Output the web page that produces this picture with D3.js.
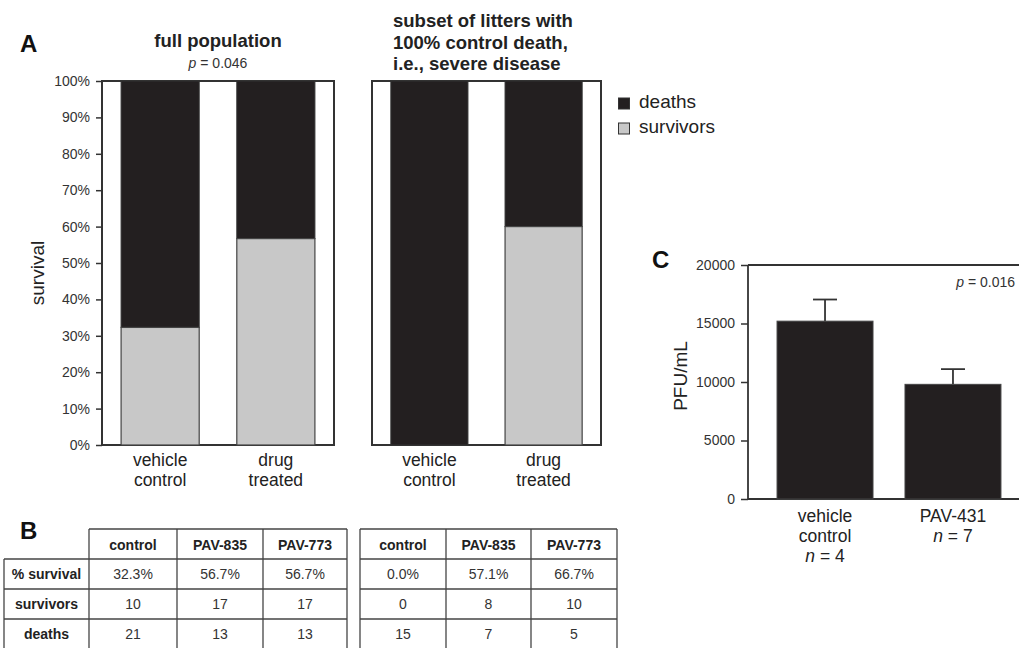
<!DOCTYPE html>
<html>
<head>
<meta charset="utf-8">
<script src="https://cdn.jsdelivr.net/npm/d3@7"></script>
<style>
  html, body { margin: 0; padding: 0; background: #fff; }
  svg { display: block; font-family: "Liberation Sans", Arial, sans-serif; }
</style>
</head>
<body>
<svg id="chart" width="1019" height="648"></svg>
<script>
// ---------- data ----------
const groupsA = ["vehicle control", "drug treated"];
const fullSurvivalPct = [32.3, 56.7];
const subsetSurvivalPct = [0.0, 60.0];
const percentTicks = [0, 10, 20, 30, 40, 50, 60, 70, 80, 90, 100];
const legendLabels = ["deaths", "survivors"];

const groupsC = ["vehicle control", "PAV-431"];
const groupsCn = [4, 7];
const pfuMeans = [15200, 9800];
const pfuErrUpper = [17050, 11100];
const pfuTicks = [0, 5000, 10000, 15000, 20000];

const tableCols = ["control", "PAV-835", "PAV-773"];
const tableRows = ["% survival", "survivors", "deaths"];
const fullPctText = ["32.3%", "56.7%", "56.7%"];
const fullSurvivors = [10, 17, 17];
const fullDeaths = [21, 13, 13];
const subsetPctText = ["0.0%", "57.1%", "66.7%"];
const subsetSurvivors = [0, 8, 10];
const subsetDeaths = [15, 7, 5];

// ---------- styles ----------
const DARK = "#231f20";
const GREY = "#c8c8c8";
const TEXT = "#222";
const CAT_FS = 17.5;
const CAT_LH = 19.8;

const svg = d3.select("#chart");

// ---------- Panel A ----------
const yA = d3.scaleLinear().domain([0, 100]).range([445, 81]);

function stackedPanel(x0, x1, values) {
  const x = d3.scaleBand().domain(groupsA).range([x0, x1])
    .paddingInner(0.325).paddingOuter(0.165);
  const g = svg.append("g");
  g.append("rect").attr("x", x0).attr("y", yA(100)).attr("width", x1 - x0)
    .attr("height", yA(0) - yA(100)).attr("fill", "#fff")
    .attr("stroke", "#333").attr("stroke-width", 2);
  groupsA.forEach((cat, i) => {
    const v = values[i];
    g.append("rect").attr("x", x(cat)).attr("width", x.bandwidth())
      .attr("y", yA(100)).attr("height", yA(v) - yA(100))
      .attr("fill", DARK).attr("stroke", "#333").attr("stroke-width", 1);
    if (v > 0) {
      g.append("rect").attr("x", x(cat)).attr("width", x.bandwidth())
        .attr("y", yA(v)).attr("height", yA(0) - yA(v))
        .attr("fill", GREY).attr("stroke", "#444").attr("stroke-width", 1.2);
    }
    const words = cat.split(" ");
    const t = g.append("text").attr("text-anchor", "middle")
      .attr("font-size", CAT_FS).attr("fill", TEXT);
    words.forEach((w, k) => {
      t.append("tspan").attr("x", x(cat) + x.bandwidth() / 2)
        .attr("y", 466 + k * CAT_LH).text(w);
    });
  });
  return x;
}

stackedPanel(102, 334, fullSurvivalPct);
stackedPanel(372, 601, subsetSurvivalPct);

const axA = svg.append("g").attr("transform", "translate(102,0)")
  .call(d3.axisLeft(yA).tickValues(percentTicks).tickFormat(d => d + "%")
    .tickSize(6).tickPadding(6));
axA.select(".domain").remove();
axA.selectAll(".tick line").attr("stroke", "#333").attr("stroke-width", 1.5);
axA.selectAll(".tick text").attr("font-size", 14).attr("fill", "#333")
  .attr("font-family", "Liberation Sans, Arial, sans-serif");

svg.append("text").attr("transform", "translate(44,273) rotate(-90)")
  .attr("text-anchor", "middle").attr("font-size", 19).attr("fill", TEXT)
  .text("survival");

svg.append("text").attr("x", 20).attr("y", 52).attr("font-size", 24)
  .attr("font-weight", "bold").attr("fill", "#111").text("A");
svg.append("text").attr("x", 218).attr("y", 47).attr("text-anchor", "middle")
  .attr("font-size", 18.5).attr("font-weight", "bold").attr("fill", TEXT)
  .text("full population");
const pA = svg.append("text").attr("x", 218).attr("y", 68).attr("text-anchor", "middle")
  .attr("font-size", 14).attr("fill", "#333");
pA.append("tspan").attr("font-style", "italic").text("p");
pA.append("tspan").text(" = 0.046");

const subTitle = ["subset of litters with", "100% control death,", "i.e., severe disease"];
const st = svg.append("text").attr("font-size", 18.5).attr("font-weight", "bold").attr("fill", TEXT);
subTitle.forEach((line, k) => {
  st.append("tspan").attr("x", 393).attr("y", 27 + k * 21.5).text(line);
});

legendLabels.forEach((lab, i) => {
  const yy = 98 + i * 25;
  svg.append("rect").attr("x", 618.5).attr("y", yy).attr("width", 11).attr("height", 11)
    .attr("fill", i === 0 ? DARK : GREY).attr("stroke", "#333").attr("stroke-width", 1);
  svg.append("text").attr("x", 639).attr("y", yy + 10).attr("font-size", 19)
    .attr("fill", TEXT).text(lab);
});

// ---------- Panel C ----------
const yC = d3.scaleLinear().domain([0, 20000]).range([499, 265]);
const xC = d3.scaleBand().domain(groupsC).range([748, 1030])
  .paddingInner(0.25).paddingOuter(0.227);

const gC = svg.append("g");
gC.append("line").attr("x1", 748).attr("x2", 1019).attr("y1", yC(20000)).attr("y2", yC(20000))
  .attr("stroke", "#333").attr("stroke-width", 1.8);
gC.append("line").attr("x1", 748).attr("x2", 1019).attr("y1", yC(0)).attr("y2", yC(0))
  .attr("stroke", "#333").attr("stroke-width", 1.8);
gC.append("line").attr("x1", 748).attr("x2", 748).attr("y1", yC(0)).attr("y2", yC(20000))
  .attr("stroke", "#333").attr("stroke-width", 1.8);

groupsC.forEach((cat, i) => {
  const cx = xC(cat) + xC.bandwidth() / 2;
  gC.append("line").attr("x1", cx).attr("x2", cx)
    .attr("y1", yC(pfuMeans[i])).attr("y2", yC(pfuErrUpper[i]))
    .attr("stroke", "#333").attr("stroke-width", 1.8);
  gC.append("line").attr("x1", cx - 12).attr("x2", cx + 12)
    .attr("y1", yC(pfuErrUpper[i])).attr("y2", yC(pfuErrUpper[i]))
    .attr("stroke", "#333").attr("stroke-width", 1.8);
  gC.append("rect").attr("x", xC(cat)).attr("width", xC.bandwidth())
    .attr("y", yC(pfuMeans[i])).attr("height", yC(0) - yC(pfuMeans[i]))
    .attr("fill", DARK).attr("stroke", "#444").attr("stroke-width", 1);
  const words = cat.split(" ");
  const t = gC.append("text").attr("text-anchor", "middle").attr("font-size", CAT_FS).attr("fill", TEXT);
  words.forEach((w, k) => {
    t.append("tspan").attr("x", cx).attr("y", 522 + k * CAT_LH).text(w);
  });
  const nT = gC.append("text").attr("text-anchor", "middle").attr("font-size", CAT_FS)
    .attr("fill", TEXT).attr("x", cx).attr("y", 522 + words.length * CAT_LH);
  nT.append("tspan").attr("font-style", "italic").text("n");
  nT.append("tspan").text(" = " + groupsCn[i]);
});

const axC = svg.append("g").attr("transform", "translate(748,0)")
  .call(d3.axisLeft(yC).tickValues(pfuTicks).tickFormat(d3.format("d"))
    .tickSize(7).tickPadding(6));
axC.select(".domain").remove();
axC.selectAll(".tick line").attr("stroke", "#333").attr("stroke-width", 1.5);
axC.selectAll(".tick text").attr("font-size", 14).attr("fill", "#333")
  .attr("font-family", "Liberation Sans, Arial, sans-serif");

svg.append("text").attr("transform", "translate(687,376) rotate(-90)")
  .attr("text-anchor", "middle").attr("font-size", 19).attr("fill", TEXT).text("PFU/mL");
svg.append("text").attr("x", 652).attr("y", 268).attr("font-size", 24)
  .attr("font-weight", "bold").attr("fill", "#111").text("C");
const pC = svg.append("text").attr("x", 1015).attr("y", 287).attr("text-anchor", "end")
  .attr("font-size", 14).attr("fill", "#333");
pC.append("tspan").attr("font-style", "italic").text("p");
pC.append("tspan").text(" = 0.016");

// ---------- Panel B (tables) ----------
svg.append("text").attr("x", 20).attr("y", 539).attr("font-size", 24)
  .attr("font-weight", "bold").attr("fill", "#111").text("B");

const rowTops = [529, 559, 589, 619, 649];

function drawTable(colEdges, pctText, survivors, deaths, withRowLabels) {
  const g = svg.append("g");
  const rowsData = [pctText, survivors.map(String), deaths.map(String)];
  const firstDataCol = withRowLabels ? 1 : 0;
  const xDataLeft = colEdges[firstDataCol];
  const xRight = colEdges[colEdges.length - 1];
  const stroke = "#444";
  g.append("line").attr("x1", xDataLeft).attr("x2", xRight).attr("y1", rowTops[0]).attr("y2", rowTops[0])
    .attr("stroke", stroke).attr("stroke-width", 1.3);
  for (let r = 1; r < rowTops.length; r++) {
    g.append("line").attr("x1", colEdges[0]).attr("x2", xRight).attr("y1", rowTops[r]).attr("y2", rowTops[r])
      .attr("stroke", stroke).attr("stroke-width", 1.3);
  }
  colEdges.forEach((cx, k) => {
    const top = (withRowLabels && k === 0) ? rowTops[1] : rowTops[0];
    g.append("line").attr("x1", cx).attr("x2", cx).attr("y1", top).attr("y2", 648)
      .attr("stroke", stroke).attr("stroke-width", 1.3);
  });
  tableCols.forEach((c, j) => {
    const a = colEdges[firstDataCol + j], b = colEdges[firstDataCol + j + 1];
    g.append("text").attr("x", (a + b) / 2).attr("y", 550).attr("text-anchor", "middle")
      .attr("font-size", 14).attr("font-weight", "bold").attr("fill", TEXT).text(c);
  });
  rowsData.forEach((row, r) => {
    const yy = rowTops[r + 1] + 20;
    if (withRowLabels) {
      g.append("text").attr("x", (colEdges[0] + colEdges[1]) / 2).attr("y", yy).attr("text-anchor", "middle")
        .attr("font-size", 14).attr("font-weight", "bold").attr("fill", TEXT).text(tableRows[r]);
    }
    row.forEach((v, j) => {
      const a = colEdges[firstDataCol + j], b = colEdges[firstDataCol + j + 1];
      g.append("text").attr("x", (a + b) / 2).attr("y", yy).attr("text-anchor", "middle")
        .attr("font-size", 14).attr("fill", "#333").text(v);
    });
  });
}

drawTable([4, 89, 177, 263, 347], fullPctText, fullSurvivors, fullDeaths, true);
drawTable([360, 446, 531, 617], subsetPctText, subsetSurvivors, subsetDeaths, false);
</script>
</body>
</html>
